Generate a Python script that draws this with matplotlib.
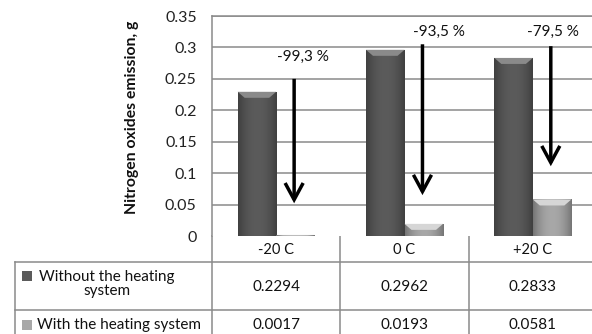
import numpy as np
import matplotlib
matplotlib.use("Agg")
import matplotlib.pyplot as plt
from matplotlib.patches import Polygon, FancyArrowPatch, Rectangle

categories = ["-20 C", "0 C", "+20 C"]
series_names = ["Without the heating\nsystem", "With the heating system"]
without_heating = [0.2294, 0.2962, 0.2833]
with_heating = [0.0017, 0.0193, 0.0581]
reduction_labels = ["-99,3 %", "-93,5 %", "-79,5 %"]
arrow_top = [0.25, 0.305, 0.302]
arrow_bottom = [0.052, 0.065, 0.111]
label_y = [0.285, 0.3245, 0.3245]
label_dx = [0.21, 0.27, 0.16]
y_ticks = [0, 0.05, 0.1, 0.15, 0.2, 0.25, 0.3, 0.35]
y_tick_labels = ["0", "0.05", "0.1", "0.15", "0.2", "0.25", "0.3", "0.35"]

FONT = "Lato"
plt.rcParams["font.family"] = [FONT, "DejaVu Sans"]

W, H = 592, 334
fig = plt.figure(figsize=(W / 100, H / 100), dpi=100)

# plot area in pixels
px_left, px_right, px_top, px_bottom = 212, 597, 16, 236
ax = fig.add_axes([px_left / W, 1 - px_bottom / H,
                   (px_right - px_left) / W, (px_bottom - px_top) / H])
ax.set_xlim(-0.5, 2.5)
ax.set_ylim(0, 0.35)
ax.set_yticks(y_ticks)
ax.set_yticklabels(y_tick_labels, fontsize=11.5, color="#222222")
ax.set_xticks([])
ax.tick_params(axis="y", length=0, pad=11)
grid_c = "#8a8a8a"
for y in y_ticks[1:]:
    ax.axhline(y, color=grid_c, lw=1.1, zorder=0)
for s in ax.spines.values():
    s.set_color(grid_c)
    s.set_linewidth(1.1)
ax.spines["bottom"].set_visible(False)

x = np.arange(len(categories))
bw = 0.3
dark_col, light_col = "#5b5b5b", "#a8a8a8"
dark_top, light_top = "#8a8a8a", "#d6d6d6"

px_per_y = (px_bottom - px_top) / 0.35
px_per_x = (px_right - px_left) / 3.0
bevel_h = 6 / px_per_y
bevel_w = 7 / px_per_x


def draw_bars(xs, vals, col, topcol):
    bars = ax.bar(xs, vals, width=bw, color=col, zorder=2, linewidth=0)
    for b in bars:
        x0, w, h = b.get_x(), b.get_width(), b.get_height()
        # horizontal shading across the bar
        grad = np.abs(np.linspace(-1, 1, 64)) ** 2
        img = np.array([matplotlib.colors.to_rgb(col)]) * (1 - 0.3 * grad[:, None])
        im = ax.imshow(img[None, :, :], extent=(x0, x0 + w, 0, h),
                       aspect="auto", zorder=2.1, interpolation="bilinear")
        im.set_clip_path(b)
        bh = min(bevel_h, h * 0.5)
        bwx = min(bevel_w, w / 2)
        top = Polygon([(x0, h), (x0 + w, h), (x0 + w - bwx, h - bh), (x0 + bwx, h - bh)],
                      closed=True, color=topcol, zorder=2.2, lw=0)
        ax.add_patch(top)
    return bars


draw_bars(x - bw / 2, without_heating, dark_col, dark_top)
draw_bars(x + bw / 2, with_heating, light_col, light_top)

# reduction arrows and labels
for i in range(len(categories)):
    xa = x[i] + 0.14
    arr = FancyArrowPatch((xa, arrow_top[i]), (xa, arrow_bottom[i]),
                          arrowstyle="->,head_length=1.2,head_width=0.65",
                          mutation_scale=10, lw=2.5, color="black", zorder=4,
                          shrinkA=0, shrinkB=0, joinstyle="miter", capstyle="butt")
    ax.add_patch(arr)
    ax.text(x[i] + label_dx[i], label_y[i], reduction_labels[i], ha="center",
            va="center", fontsize=11, color="#111111", zorder=5)

fig.text(132 / W, 1 - 117 / H, "Nitrogen oxides emission, g", rotation=90,
         ha="center", va="center", fontsize=11.3, fontweight="bold", color="#111111")

# data table under the plot, in pixel coordinates
tab = fig.add_axes([0, 0, 1, 1], zorder=-1)
tab.set_xlim(0, W)
tab.set_ylim(H, 0)
tab.axis("off")
line_c = "#8a8a8a"
col_edges = [px_left + i * px_per_x for i in range(len(categories) + 1)]
row_edges = [236, 262, 310, 340]
tab_left = 15
lw = 1.1
for ce in col_edges:
    tab.plot([ce, ce], [row_edges[0], row_edges[-1]], color=line_c, lw=lw)
tab.plot([tab_left, tab_left], [row_edges[1], row_edges[-1]], color=line_c, lw=lw)
for re in row_edges[1:3]:
    tab.plot([tab_left, col_edges[-1]], [re, re], color=line_c, lw=lw)

for i, c in enumerate(categories):
    cx = (col_edges[i] + col_edges[i + 1]) / 2
    tab.text(cx, 250, c, ha="center", va="center", fontsize=10.5, color="#111111")
    tab.text(cx, 287, f"{without_heating[i]:.4f}", ha="center", va="center",
             fontsize=11, color="#111111")
    tab.text(cx, 325, f"{with_heating[i]:.4f}", ha="center", va="center",
             fontsize=11, color="#111111")

tab.add_patch(Rectangle((22, 271), 10, 10, color=dark_col, lw=0))
tab.add_patch(Rectangle((22, 320), 10, 10, color=light_col, lw=0))
tab.text(107, 284, series_names[0], ha="center", va="center", fontsize=11,
         color="#111111", multialignment="center", linespacing=1.05)
tab.text(37, 325, series_names[1], ha="left", va="center", fontsize=11,
         color="#111111")

fig.savefig("out.png", dpi=100)
